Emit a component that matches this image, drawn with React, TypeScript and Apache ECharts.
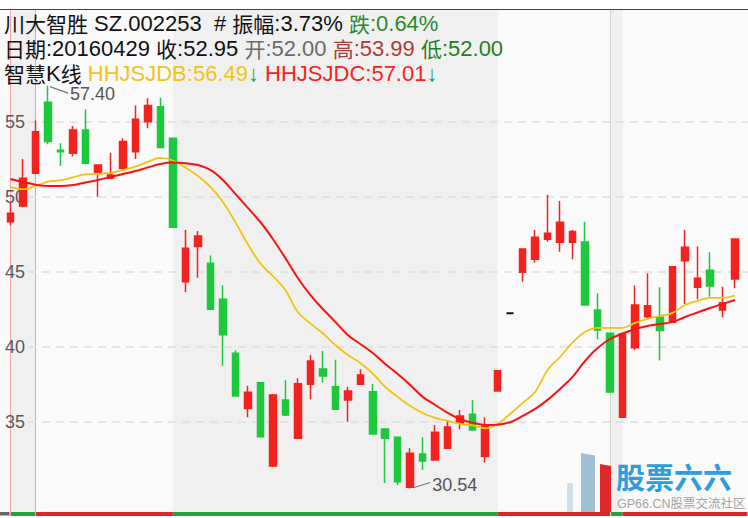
import React, { useEffect, useRef } from 'react';
import * as echarts from 'echarts';

// ---- data ----
const categories: string[] = Array.from({ length: 59 }, (_, i) => 'D' + (i + 1));

// [open, close, low, high]
const candles: number[][] = [
  [48.33, 48.89, 48.07, 49.58],
  [49.38, 51.23, 49.29, 52.51],
  [51.56, 54.33, 51.5, 55.07],
  [56.29, 53.67, 53.49, 57.4],
  [53.1, 53.0, 52.05, 53.56],
  [52.89, 54.45, 52.67, 54.71],
  [54.45, 52.23, 52.16, 55.83],
  [51.63, 52.11, 50.0, 52.15],
  [51.23, 51.45, 51.23, 52.93],
  [51.89, 53.67, 51.73, 53.89],
  [53.0, 55.16, 52.51, 56.07],
  [55.0, 56.07, 54.56, 56.56],
  [56.0, 53.27, 53.27, 56.6],
  [53.89, 47.96, 47.96, 53.89],
  [44.33, 46.56, 43.63, 47.78],
  [46.67, 47.38, 44.6, 47.71],
  [45.56, 42.49, 42.49, 46.07],
  [43.16, 40.8, 38.73, 44.07],
  [39.56, 36.71, 36.71, 39.76],
  [35.87, 36.96, 35.29, 37.4],
  [37.6, 34.0, 34.0, 37.6],
  [32.05, 36.78, 31.98, 36.85],
  [36.45, 35.45, 35.38, 37.76],
  [33.89, 37.53, 33.89, 37.89],
  [37.49, 39.05, 36.49, 39.45],
  [38.51, 38.05, 37.6, 39.71],
  [37.33, 35.83, 35.83, 39.13],
  [36.45, 37.05, 35.0, 37.33],
  [37.49, 38.11, 37.45, 38.49],
  [37.0, 34.18, 34.18, 37.51],
  [34.51, 33.89, 30.91, 34.51],
  [33.96, 31.0, 30.78, 33.96],
  [30.63, 32.89, 30.54, 33.22],
  [32.85, 32.38, 31.78, 33.96],
  [32.45, 34.29, 32.45, 34.78],
  [33.22, 34.65, 33.22, 35.11],
  [34.93, 35.38, 34.49, 35.78],
  [35.49, 34.45, 34.45, 36.45],
  [32.67, 34.67, 32.27, 35.27],
  [37.05, 38.4, 37.05, 38.4],
  [42.23, 42.23, 42.23, 42.23],
  [44.96, 46.51, 44.33, 46.51],
  [45.83, 47.29, 45.6, 47.78],
  [47.16, 47.56, 47.0, 50.11],
  [46.96, 48.29, 46.33, 49.71],
  [46.96, 47.67, 45.83, 47.78],
  [46.98, 42.78, 42.78, 48.33],
  [42.45, 41.11, 40.49, 43.56],
  [40.89, 36.98, 36.98, 40.89],
  [35.29, 40.85, 35.29, 40.85],
  [39.93, 42.78, 39.78, 44.07],
  [42.0, 42.73, 41.83, 44.89],
  [41.96, 41.07, 39.07, 43.96],
  [41.63, 45.33, 41.63, 45.33],
  [45.73, 46.63, 42.83, 47.78],
  [43.96, 44.56, 43.16, 46.67],
  [45.09, 44.05, 43.33, 46.29],
  [42.45, 42.93, 41.96, 44.0],
  [44.51, 47.18, 43.89, 47.18],
];

// index of the suspended (flat) day drawn in black
const flatDays = [40];

const hhjsjdb: number[] = [
  50.63, 50.49, 50.71, 51.0, 51.08, 51.29, 51.49, 51.51, 51.6, 51.78,
  52.0, 52.33, 52.58, 52.41, 51.94, 51.38, 50.65, 49.65, 48.3, 46.83,
  45.55, 44.71, 43.78, 42.31, 41.55, 40.89, 40.11, 39.45, 38.91, 38.21,
  37.31, 36.65, 36.05, 35.58, 35.25, 35.05, 34.85, 34.75, 34.56, 34.85,
  35.51, 36.25, 36.98, 38.45, 39.31, 40.28, 40.98, 41.25, 41.25, 41.25,
  41.58, 41.85, 42.05, 42.25, 42.78, 43.05, 43.25, 43.25, 43.41,
];

const hhjsjdc: number[] = [
  51.18, 50.98, 50.8, 50.71, 50.71, 50.78, 50.95, 51.11, 51.31, 51.51,
  51.71, 51.95, 52.18, 52.27, 52.23, 52.11, 51.78, 51.11, 50.18, 49.25,
  48.31, 47.18, 45.91, 44.58, 43.45, 42.51, 41.65, 40.78, 40.18, 39.58,
  38.85, 38.18, 37.45, 36.65, 36.11, 35.58, 35.16, 34.93, 34.78, 34.8,
  34.96, 35.38, 35.85, 36.45, 37.18, 37.98, 39.05, 39.91, 40.51, 40.88,
  41.18, 41.38, 41.51, 41.65, 41.98, 42.28, 42.58, 42.85, 43.11,
];

const yTickMin = 35;
const yTickMax = 55;
const yTickStep = 5;

// period bands: [fromIndex, toIndex, shaded]
const bands: [number, number, boolean][] = [
  [0, 2, true],
  [2, 13, false],
  [13, 39, true],
  [39, 48, false],
  [48, 49, true],
  [49, 59, false],
];
const separatorLines = [0, 2];
const cursorLine = 48;

// header texts: [text, colour]
const headerLine1: [string, string][] = [
  ['川大智胜 SZ.002253  # 振幅:3.73% ', '#111111'],
  ['跌:0.64%', '#2a8a2a'],
];
const headerLine2: [string, string][] = [
  ['日期:20160429 收:52.95 ', '#111111'],
  ['开:52.00 ', '#6b6b6b'],
  ['高:53.99 ', '#a83e3a'],
  ['低:52.00', '#1f801f'],
];
const headerLine3: [string, string][] = [
  ['智慧K线 ', '#111111'],
  ['HHJSJDB:56.49', '#f0c419'],
  ['↓ ', '#17a34a'],
  ['HHJSJDC:57.01', '#ff1c1c'],
  ['↓', '#17a34a'],
];

const LATIN = '"Liberation Sans", "Noto Sans CJK SC", sans-serif';
const CJK = '"Noto Sans CJK SC", sans-serif';

function buildRich(segs: [string, string][], prefix: string) {
  const rich: Record<string, any> = {};
  let text = '';
  const isCJK = (ch: string) => /[\u3000-\u9fff\uff00-\uffef]/.test(ch);
  segs.forEach(([s, color], si) => {
    const runs: [string, boolean][] = [];
    let cur = '';
    let curC: boolean | null = null;
    for (const ch of s) {
      const c = isCJK(ch);
      if (curC === null || c === curC) {
        cur += ch;
        curC = c;
      } else {
        runs.push([cur, curC]);
        cur = ch;
        curC = c;
      }
    }
    if (cur) runs.push([cur, !!curC]);
    runs.forEach(([r, c], ri) => {
      const key = `${prefix}s${si}r${ri}`;
      rich[key] = {
        fill: color,
        fontSize: c ? 21 : 22,
        fontFamily: c ? CJK : LATIN,
        verticalAlign: 'middle',
        lineHeight: 24,
      };
      text += `{${key}|${r}}`;
    });
  });
  return { text, rich };
}

export default function App() {
  const ref = useRef<HTMLDivElement>(null);
  useEffect(() => {
    const chart = echarts.init(ref.current!, null, { renderer: 'svg' });
    const YMIN = 28.71;
    const YMAX = 62.51;
    const STRIP = 0.267;
    const cats = [...categories, ''];
    const UP = '#f2231f';
    const DOWN = '#1ec83c';

    const candleData = candles.map((c, i) =>
      flatDays.includes(i)
        ? {
            value: c,
            itemStyle: { color: '#111', color0: '#111', borderColor: '#111', borderColor0: '#111', borderWidth: 2 },
          }
        : c
    );

    const markAreaData: any[] = [];
    bands.forEach(([a, b, shaded]) => {
      if (shaded) {
        markAreaData.push([{ xAxis: cats[a], itemStyle: { color: '#f0f0f0' } }, { xAxis: cats[b] }]);
      }
    });
    bands.forEach(([a, b, shaded]) => {
      markAreaData.push([
        { xAxis: cats[a], yAxis: YMIN, itemStyle: { color: shaded ? '#22a23c' : '#d8262b' } },
        { xAxis: cats[b], yAxis: YMIN + STRIP },
      ]);
    });

    const h1 = buildRich(headerLine1, 'a');
    const h2 = buildRich(headerLine2, 'b');
    const h3 = buildRich(headerLine3, 'c');

    const option: any = {
      animation: false,
      backgroundColor: '#ffffff',
      grid: [
        { left: 4.3, width: 749.4, top: 9, bottom: 2, outerBoundsMode: 'none', containLabel: false },
        { left: 28, right: 0, top: 121.65, bottom: 96.35, outerBoundsMode: 'none', containLabel: false },
      ],
      xAxis: [
        { type: 'category', data: cats, gridIndex: 0, show: false, boundaryGap: true },
        { type: 'value', gridIndex: 1, show: false, min: 0, max: 1 },
      ],
      yAxis: [
        { type: 'value', gridIndex: 0, show: false, min: YMIN, max: YMAX, scale: true },
        {
          type: 'value',
          gridIndex: 1,
          min: yTickMin,
          max: yTickMax,
          interval: yTickStep,
          z: 2,
          axisLine: { show: false },
          axisTick: { show: false },
          axisLabel: { color: '#5a5a5a', fontSize: 18, fontFamily: LATIN, margin: 3 },
          splitLine: { show: true, lineStyle: { color: '#dedede', width: 1.5, type: [8, 6] } },
        },
      ],
      series: [
        {
          type: 'candlestick',
          xAxisIndex: 0,
          yAxisIndex: 0,
          z: 5,
          barWidth: 7,
          data: candleData,
          itemStyle: { color: UP, color0: DOWN, borderColor: UP, borderColor0: DOWN, borderWidth: 1.5 },
          markArea: { silent: true, z: 1, data: markAreaData },
          markLine: {
            silent: true,
            symbol: 'none',
            z: 1.5,
            label: { show: false },
            data: [
              ...separatorLines.map((i) => ({ xAxis: cats[i], lineStyle: { color: '#f2a5a5', width: 1, type: 'solid' } })),
              { xAxis: cats[cursorLine], lineStyle: { color: '#cbd8cb', width: 1, type: 'solid' } },
            ],
          },
        },
        {
          type: 'line',
          name: 'HHJSJDB',
          xAxisIndex: 0,
          yAxisIndex: 0,
          z: 6,
          data: hhjsjdb,
          smooth: 0.4,
          showSymbol: false,
          lineStyle: { color: '#f2c40f', width: 1.8 },
        },
        {
          type: 'line',
          name: 'HHJSJDC',
          xAxisIndex: 0,
          yAxisIndex: 0,
          z: 6,
          data: hhjsjdc,
          smooth: 0.4,
          showSymbol: false,
          lineStyle: { color: '#ff1010', width: 2 },
        },
      ],
      graphic: [
        { id: 'bg', type: 'rect', z: -10, silent: true, shape: { x: 0, y: 9, width: 748, height: 507 }, style: { fill: '#fafafa' } },
        { id: 'topline', type: 'line', z: 10, silent: true, shape: { x1: 0, y1: 9.5, x2: 748, y2: 9.5 }, style: { stroke: '#444', lineWidth: 1 } },
        { id: 'h1', type: 'text', z: 20, x: 4, y: 23, style: { text: h1.text, rich: h1.rich, verticalAlign: 'middle' } },
        { id: 'h2', type: 'text', z: 20, x: 4, y: 48, style: { text: h2.text, rich: h2.rich, verticalAlign: 'middle' } },
        { id: 'h3', type: 'text', z: 20, x: 4, y: 73, style: { text: h3.text, rich: h3.rich, verticalAlign: 'middle' } },
        // watermark
        { id: 'wm1', type: 'rect', z: 8, silent: true, shape: { x: 567, y: 483, width: 6, height: 29 }, style: { fill: '#cfe0ec' } },
        { id: 'wm2', type: 'polygon', z: 8, silent: true, shape: { points: [[581, 453], [595, 455.5], [595, 512], [581, 512]] }, style: { fill: '#9fbfd6' } },
        { id: 'wm3', type: 'polygon', z: 8, silent: true, shape: { points: [[600, 464], [611, 466], [611, 512], [600, 512]] }, style: { fill: '#e0272a' } },
        { id: 'wm4', type: 'text', z: 8, silent: true, x: 616, y: 476, style: { text: '股票六六', fill: '#2b9de0', font: 'bold 29px "Noto Sans CJK SC", sans-serif', verticalAlign: 'middle', lineHeight: 28 } },
        { id: 'wm5', type: 'text', z: 8, silent: true, x: 617, y: 503.5, style: { text: 'GP66.CN股票交流社区', fill: '#a5a5a5', font: '12.5px ' + LATIN, verticalAlign: 'middle', lineHeight: 13 } },
      ],
    };
    chart.setOption(option);

    // high / low annotations, positioned from the data through the axes
    let hiIdx = 0;
    let loIdx = 0;
    candles.forEach((c, i) => {
      if (c[3] > candles[hiIdx][3]) hiIdx = i;
      if (c[2] < candles[loIdx][2]) loIdx = i;
    });
    const hi = candles[hiIdx][3];
    const lo = candles[loIdx][2];
    const ph = chart.convertToPixel({ xAxisIndex: 0, yAxisIndex: 0 }, [hiIdx, hi]) as number[];
    const pl = chart.convertToPixel({ xAxisIndex: 0, yAxisIndex: 0 }, [loIdx, lo]) as number[];
    const p0 = chart.convertToPixel({ xAxisIndex: 0, yAxisIndex: 0 }, [0, YMIN]) as number[];
    chart.setOption({
      graphic: [
        { id: 'hiLine', type: 'line', z: 10, silent: true, shape: { x1: ph[0] + 2, y1: ph[1] + 1, x2: ph[0] + 20, y2: ph[1] + 7.5 }, style: { stroke: '#777', lineWidth: 1.2 } },
        { id: 'hiText', type: 'text', z: 10, silent: true, x: ph[0] + 22, y: ph[1] + 8, style: { text: hi.toFixed(2), fill: '#555', font: '18px ' + LATIN, verticalAlign: 'middle' } },
        { id: 'loLine', type: 'line', z: 10, silent: true, shape: { x1: pl[0] + 4, y1: pl[1] - 1, x2: pl[0] + 20, y2: pl[1] - 6 }, style: { stroke: '#777', lineWidth: 1.2 } },
        { id: 'loText', type: 'text', z: 10, silent: true, x: pl[0] + 22, y: pl[1] - 4, style: { text: lo.toFixed(2), fill: '#555', font: '18px ' + LATIN, verticalAlign: 'middle' } },
        { id: 'stripLeft', type: 'rect', z: 3, silent: true, shape: { x: 0, y: p0[1] - 4, width: p0[0] - 1, height: 3.5 }, style: { fill: '#666' } },
      ],
    });

    return () => chart.dispose();
  }, []);
  return (
    <div style={{ position: 'absolute', left: 0, top: 0 }}>
      <div ref={ref} style={{ width: 748, height: 518 }} />
    </div>
  );
}
